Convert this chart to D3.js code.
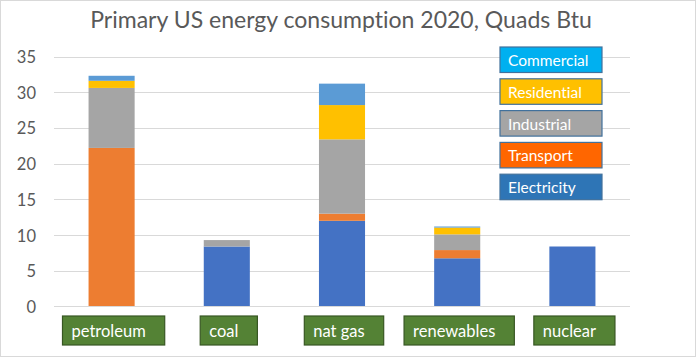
<!DOCTYPE html>
<html>
<head>
<meta charset="utf-8">
<script src="https://cdn.jsdelivr.net/npm/d3@7"></script>
<style>
  html, body { margin: 0; padding: 0; background: #fff; }
  svg { display: block; font-family: Lato, "Open Sans", sans-serif; font-variant-ligatures: none; }
  text { font-variant-ligatures: none; font-feature-settings: "liga" 0, "clig" 0; }
</style>
</head>
<body>
<svg id="chart" width="700" height="358"></svg>
<script>
// ---- data ----
const categories = ["petroleum", "coal", "nat gas", "renewables", "nuclear"];
const sectors = ["Electricity", "Transport", "Industrial", "Residential", "Commercial"];
const electricity = [0, 8.4, 12.0, 6.75, 8.4];
const transport   = [22.2, 0, 1.0, 1.15, 0];
const industrial  = [8.4, 0.9, 10.4, 2.2, 0];
const residential = [1.0, 0, 4.8, 0.95, 0];
const commercial  = [0.7, 0, 3.0, 0.15, 0];
const yTicks = [0, 5, 10, 15, 20, 25, 30, 35];
const titleText = "Primary US energy consumption 2020, Quads Btu";

// ---- styles ----
const barColors = {
  Electricity: "#4472C4", Transport: "#ED7D31", Industrial: "#A5A5A5",
  Residential: "#FFC000", Commercial: "#5B9BD5"
};
const legendColors = {
  Commercial: "#00B0F0", Residential: "#FFC000", Industrial: "#A5A5A5",
  Transport: "#FF6600", Electricity: "#2E75B6"
};
const legendOrder = ["Commercial", "Residential", "Industrial", "Transport", "Electricity"];

const seriesValues = { Electricity: electricity, Transport: transport, Industrial: industrial, Residential: residential, Commercial: commercial };
const table = categories.map((c, i) => {
  const row = { category: c };
  sectors.forEach(s => row[s] = seriesValues[s][i]);
  return row;
});

const svg = d3.select("#chart");

// outer border
svg.append("rect").attr("x", 0.5).attr("y", 0.5).attr("width", 695).attr("height", 356)
  .attr("fill", "#fff").attr("stroke", "#D9D9D9");

const x = d3.scaleBand().domain(categories).range([54, 630]).paddingInner(0.6).paddingOuter(0.3);
const y = d3.scaleLinear().domain([0, 35]).range([306.5, 56.5]);

// gridlines
svg.append("g").selectAll("line").data(yTicks.filter(t => t > 0)).join("line")
  .attr("x1", 54).attr("x2", 630)
  .attr("y1", d => Math.round(y(d)) + 0.5).attr("y2", d => Math.round(y(d)) + 0.5)
  .attr("stroke", "#D9D9D9").attr("stroke-width", 1);

// y axis labels
const yAxis = d3.axisLeft(y).tickValues(yTicks).tickSize(0).tickPadding(0);
const yg = svg.append("g").attr("transform", "translate(36,0)").call(yAxis);
yg.select(".domain").remove();
yg.selectAll("text").attr("fill", "#595959").attr("font-size", 16.5)
  .attr("font-family", "Lato, 'Open Sans', sans-serif").attr("dy", "0.36em");

// stacked bars
const stack = d3.stack().keys(sectors)(table);
svg.append("g").selectAll("g").data(stack).join("g")
  .attr("fill", d => barColors[d.key])
  .selectAll("rect").data(d => d).join("rect")
  .attr("x", d => x(d.data.category))
  .attr("width", x.bandwidth())
  .attr("y", d => y(d[1]))
  .attr("height", d => Math.max(0, y(d[0]) - y(d[1])));

// baseline
svg.append("line").attr("x1", 54).attr("x2", 630)
  .attr("y1", 306.5).attr("y2", 306.5).attr("stroke", "#D9D9D9");

// category label boxes
const catG = svg.append("g").selectAll("g").data(categories).join("g");
catG.each(function (c) {
  const g = d3.select(this);
  const t = g.append("text").text(c).attr("fill", "#fff").attr("font-size", 16.5)
    .attr("y", 336.5);
  const w = t.node().getComputedTextLength();
  const bw = w + 28;
  const left = x(c) + x.bandwidth() / 2 - bw / 2 + 2;
  g.insert("rect", "text").attr("x", left).attr("y", 316).attr("width", bw).attr("height", 29)
    .attr("fill", "#548235").attr("stroke", "#385723").attr("stroke-width", 1.2);
  t.attr("x", left + 9);
});

// legend
const lg = svg.append("g").selectAll("g").data(legendOrder).join("g")
  .attr("transform", (d, i) => `translate(500, ${47 + i * 31.8})`);
lg.append("rect").attr("width", 102).attr("height", 25.5)
  .attr("fill", d => legendColors[d]).attr("stroke", "#41719C").attr("stroke-width", 1.2);
lg.append("text").text(d => d).attr("x", 8).attr("y", 19).attr("fill", "#fff")
  .attr("font-size", 15.5);

// title
const title = svg.append("text").text(titleText).attr("x", 341).attr("y", 28)
  .attr("text-anchor", "middle").attr("fill", "#595959").attr("font-size", 21);
const tw = title.node().getComputedTextLength();
title.attr("font-size", 21 * 502 / tw);
</script>
</body>
</html>
